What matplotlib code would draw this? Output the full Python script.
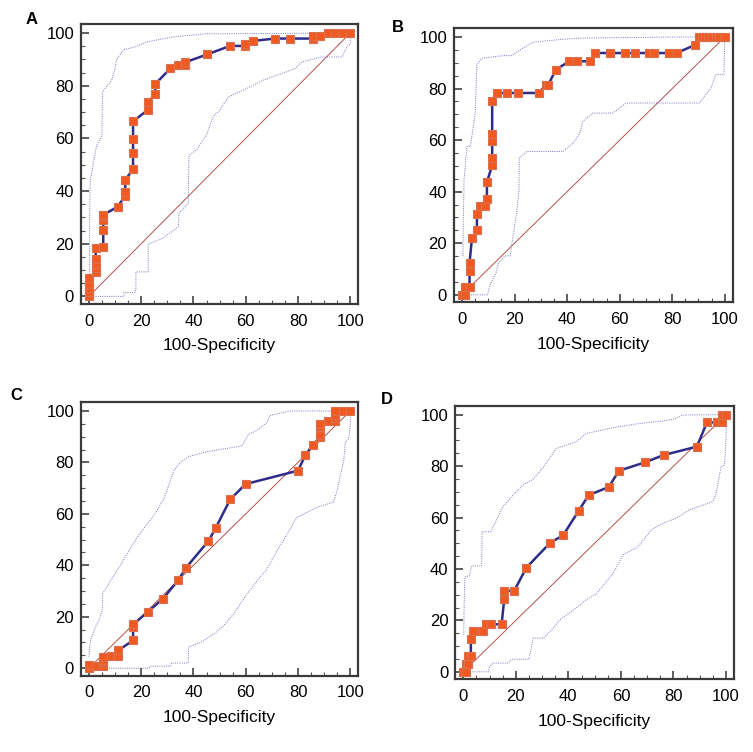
import matplotlib.pyplot as plt
from matplotlib.ticker import MultipleLocator

plt.rcParams['font.family'] = ['Liberation Sans', 'DejaVu Sans']

# ---- panel A ----
a_x = [0, 0, 0, 0, 0, 2.6, 2.6, 2.6, 2.6, 2.6, 5.5, 5.5, 5.5, 5.5, 11, 13.9, 13.9, 13.9,
       16.9, 16.9, 16.9, 16.9, 22.6, 22.6, 25.4, 25.4, 31.2, 34, 36.9, 36.9, 45.3, 54,
       59.8, 59.8, 62.6, 71.3, 77, 85.6, 85.6, 88.5, 91.3, 94.1, 97, 100]
a_y = [0, 1.6, 3.1, 4.7, 6.8, 9.2, 10.7, 12.3, 14.1, 18.5, 18.9, 25.2, 29, 31, 34, 38.3, 39.8, 44.1,
       48.4, 54.4, 59.7, 66.5, 70.8, 73.7, 76.8, 80.6, 86.6, 87.7, 87.9, 88.9, 91.9, 95.1,
       95.1, 96, 97, 97.9, 97.9, 97.9, 98.9, 98.9, 100, 100, 100, 100]
a_up_x = [0.3, 0.3, 0.5, 3, 5, 5.2, 8.7, 10, 10.6, 13.4, 17.6, 22, 32, 45, 100]
a_up_y = [6, 30, 44, 57.5, 61, 77.7, 82, 86.5, 90, 93.7, 94.7, 96.6, 98.5, 99.7, 100]
a_lo_x = [0, 13.4, 13.4, 17.6, 18, 18, 22.7, 22.7, 28.5, 34.2, 34.5, 38, 38.3, 41.3, 45,
          47.6, 50.2, 53.4, 59.1, 66.8, 78.9, 81.5, 89, 96.8, 98.7, 100, 100]
a_lo_y = [0, 0, 1.5, 1.5, 2.8, 9.3, 9.3, 19.8, 22.3, 26.4, 31.5, 35.3, 53.5, 55.7, 61.3,
          68.3, 70.8, 75.8, 78.3, 82.1, 86.5, 89, 90.9, 90.9, 94.7, 96, 100]

# ---- panel B ----
b_x = [0, 1.3, 1.3, 2.9, 2.9, 2.9, 3.8, 5.7, 5.7, 6.7, 8.6, 9.5, 9.5, 11.5, 11.5, 11.5, 11.5, 11.5,
       13.5, 17.3, 21.2, 29.2, 31.9, 32.8, 35.7, 40.8, 43.8, 48.6, 50.8, 56.2, 62.2, 66,
       71.1, 72.9, 78.9, 81.7, 88.8, 90.3, 91.3, 92.6, 93.8, 95.1, 96.6, 97.9, 100]
b_y = [0, 0, 3.2, 3.1, 9.4, 12.5, 21.9, 25, 31.4, 34.3, 34.3, 37.3, 43.7, 50.2, 53.2, 59.5, 62.5, 75,
       78.3, 78.3, 78.3, 78.3, 81.4, 81.4, 87.3, 90.6, 90.6, 90.6, 93.8, 93.8, 93.8, 93.8,
       93.8, 93.8, 93.8, 93.8, 97, 100, 100, 100, 100, 100, 100, 100, 100]
b_up_x = [0.4, 0.4, 0.8, 1.9, 3.2, 5, 5.7, 7.6, 15.8, 19, 22, 27, 37, 45, 80, 100]
b_up_y = [15, 20, 44.6, 57.6, 57.6, 70, 89.3, 91.8, 92.8, 92.8, 95, 98, 99, 99.6, 100, 100]
b_lo_x = [0, 9.7, 10.7, 13, 13.9, 16.4, 18.3, 19.6, 20.8, 21.7, 21.8, 24.6, 38.5, 42.3, 44.8,
          46, 49.9, 57.4, 62.5, 90.3, 94.7, 96.6, 99.7, 100]
b_lo_y = [0, 0, 3.9, 8.7, 12.3, 15.1, 15.1, 24, 31.7, 40.7, 53, 55.6, 55.6, 58.9, 62.7,
          67.3, 70.5, 70.5, 74.4, 74.4, 80.2, 85.4, 85.4, 100]

# ---- panel C ----
c_x = [0, 0, 2.8, 5.5, 5.5, 5.5, 5.5, 8.3, 11.2, 11.2, 16.9, 16.9, 16.9, 22.7, 28.4, 34.1,
       37.1, 45.7, 48.5, 54.1, 60, 80, 82.8, 85.6, 88.5, 88.5, 88.5, 88.5, 91.5,
       94.3, 94.3, 94.3, 94.3, 97.2, 100]
c_y = [0, 1.2, 1, 0.8, 2.3, 3.2, 4.3, 4.8, 4.8, 6.9, 10.8, 15.9, 17, 22, 27.1, 34.1,
       39, 49.4, 54.5, 65.7, 71.6, 76.8, 82.8, 86.8, 89.8, 90.8, 93.9, 95, 96,
       96, 97.3, 98.6, 99.9, 100, 100]
c_up_x = [0, 0.6, 2.5, 3.8, 5.1, 5.3, 8.3, 10.8, 14.6, 18.5, 24.8, 28.7, 32.5, 35, 38.2,
          45.2, 55.4, 58.6, 61.1, 64.3, 68.2, 69.2, 77, 100]
c_up_y = [4.5, 10.8, 16, 18.5, 22.4, 29, 34, 38, 44.4, 51, 59.3, 65.8, 76.8, 80, 82.3,
          84.2, 85.9, 86.5, 91, 92.4, 95.6, 98.2, 100, 100]
c_lo_x = [0, 23, 23.5, 31.2, 31.6, 38, 38.2, 42.7, 47.8, 51.6, 55.4, 60.5, 64.3, 68.2, 72,
          75.2, 79.6, 83.4, 87.3, 93.6, 94.9, 97.5, 98.1, 99.4, 100, 100]
c_lo_y = [0, 0, 0.8, 0.8, 2, 2, 8.2, 10, 13.3, 16.6, 21.1, 28.9, 34, 38.6, 45.7,
          51, 58.7, 60.6, 62.6, 64.5, 69, 80.7, 87.8, 89.1, 95, 100]

# ---- panel D ----
d_x = [0, 1, 1, 1.9, 1.9, 2.9, 2.9, 3.8, 6.7, 7.6, 8.6, 10.5, 14.6, 15.6, 15.6, 19.4,
       24, 33.2, 38, 43.9, 47.7, 55.4, 59.2, 69.2, 76.2, 88.9, 92.7, 96.5, 98.5, 98.5, 100]
d_y = [0, 0, 3.1, 3.1, 6.2, 6.2, 12.7, 15.7, 15.7, 15.7, 18.5, 18.5, 18.5, 28.2, 31.5, 31.5,
       40.5, 50.3, 53.1, 62.6, 68.7, 71.9, 78.2, 81.5, 84.3, 87.6, 97, 97, 97, 100, 100]
d_up_x = [0.2, 0.3, 0.6, 2.3, 3.2, 7, 7.2, 10.5, 12.7, 14.6, 19, 22.8, 26.6, 30.4, 35.4,
          39.2, 43, 46.8, 57, 67, 77.2, 81, 83.5, 95, 100]
d_up_y = [14.4, 22.8, 37, 37.3, 41.2, 41.2, 54.5, 54.5, 59, 63.6, 68.8, 72.7, 74.9, 79.5, 86.9,
          88.2, 89.5, 92.7, 95, 96.6, 97.7, 98.6, 99.9, 100, 100]
d_lo_x = [0, 9.5, 10.1, 11.4, 17.1, 18.4, 25, 26.6, 30.4, 33.5, 36.7, 41.1, 46.8, 50.6, 57,
          60.8, 66.5, 71.5, 75.9, 81, 86, 95, 96.2, 98.1, 99.4, 100, 100]
d_lo_y = [0, 0, 2.1, 3.4, 3.4, 4.9, 4.9, 13.1, 13.1, 16.1, 20.2, 23.4, 28, 30.3, 38.3,
          45.5, 48.7, 55.2, 57.8, 59.7, 63, 66.2, 69.4, 79.8, 80.4, 90.2, 100]

W, H = 753, 752
panels = [
    ('A', [0.1076, 0.5957, 0.368, 0.3723], (32, 19), a_x, a_y, a_up_x, a_up_y, a_lo_x, a_lo_y),
    ('B', [0.603, 0.598, 0.370, 0.3644], (398, 27), b_x, b_y, b_up_x, b_up_y, b_lo_x, b_lo_y),
    ('C', [0.1076, 0.1015, 0.368, 0.3636], (16, 396), c_x, c_y, c_up_x, c_up_y, c_lo_x, c_lo_y),
    ('D', [0.6047, 0.0967, 0.370, 0.3634], (387, 400), d_x, d_y, d_up_x, d_up_y, d_lo_x, d_lo_y),
]

fig = plt.figure(figsize=(W / 100, H / 100), dpi=100)

for label, pos, lab_px, px, py, ux, uy, lx, ly in panels:
    ax = fig.add_axes(pos)
    # reference diagonal
    ax.plot([0, 100], [0, 100], color='#B5524A', lw=0.7, zorder=1)
    # confidence bounds
    ax.plot(ux, uy, color='#7078C4', lw=0.7, ls=(0, (1, 1.3)), zorder=1)
    ax.plot(lx, ly, color='#7078C4', lw=0.7, ls=(0, (1, 1.3)), zorder=1)
    # ROC curve
    ax.plot(px, py, color='#2E2C8A', lw=1.8, marker='s', ms=6,
            mfc='#F05A22', mec='#D9704F', mew=0.8, zorder=3)

    ax.set_xlim(-3, 103)
    ax.set_ylim(-2.9, 103.4)
    ax.xaxis.set_major_locator(MultipleLocator(20))
    ax.xaxis.set_minor_locator(MultipleLocator(5))
    ax.yaxis.set_major_locator(MultipleLocator(20))
    ax.yaxis.set_minor_locator(MultipleLocator(5))
    ax.tick_params(which='major', direction='in', length=6, width=1.1,
                   labelsize=12, color='#333333', pad=5)
    ax.tick_params(axis='x', which='major', pad=7)
    ax.tick_params(which='minor', direction='in', length=3, width=0.8, color='#555555')
    for sp in ax.spines.values():
        sp.set_linewidth(1.6)
        sp.set_color('#3A3A3A')
    ax.set_xlabel('100-Specificity', fontsize=12.5, labelpad=7)
    fig.text(lab_px[0] / W, 1 - lab_px[1] / H, label,
             fontsize=12, fontweight='bold', ha='center', va='center')

fig.savefig('out.png', dpi=100)
